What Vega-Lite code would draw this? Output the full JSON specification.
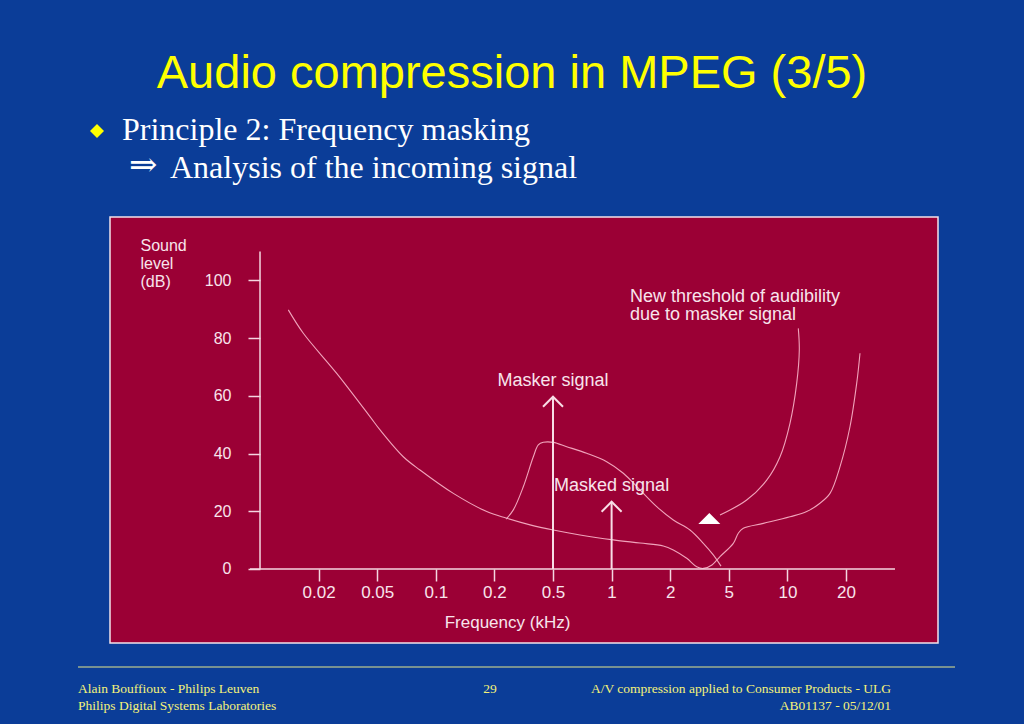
{
  "$schema": "https://vega.github.io/schema/vega-lite/v6.json",
  "width": 828,
  "height": 426,
  "autosize": {"type": "none"},
  "padding": {"left": 110, "top": 217, "right": 86, "bottom": 81},
  "background": "#0b3d98",
  "view": {"fill": "#9b0035", "stroke": "#f2e2ea", "strokeWidth": 1.5},
  "config": {
    "view": {"fill": "#9b0035", "stroke": "#f2e2ea", "strokeWidth": 1.5},
    "text": {"font": "Liberation Sans"}
  },
  "datasets": {
    "curves": [
      {"curve": "Threshold in quiet", "seq": 1, "freq_step": -0.517, "level": 89.8},
      {"curve": "Threshold in quiet", "seq": 2, "freq_step": -0.261, "level": 81.7},
      {"curve": "Threshold in quiet", "seq": 3, "freq_step": 0.309, "level": 67.8},
      {"curve": "Threshold in quiet", "seq": 4, "freq_step": 0.877, "level": 52.8},
      {"curve": "Threshold in quiet", "seq": 5, "freq_step": 1.048, "level": 48.2},
      {"curve": "Threshold in quiet", "seq": 6, "freq_step": 1.445, "level": 38.9},
      {"curve": "Threshold in quiet", "seq": 7, "freq_step": 1.73, "level": 34.3},
      {"curve": "Threshold in quiet", "seq": 8, "freq_step": 2.299, "level": 26.2},
      {"curve": "Threshold in quiet", "seq": 9, "freq_step": 2.869, "level": 19.9},
      {"curve": "Threshold in quiet", "seq": 10, "freq_step": 3.21, "level": 17.6},
      {"curve": "Threshold in quiet", "seq": 11, "freq_step": 3.608, "level": 15.3},
      {"curve": "Threshold in quiet", "seq": 12, "freq_step": 4.005, "level": 13.5},
      {"curve": "Threshold in quiet", "seq": 13, "freq_step": 4.461, "level": 11.8},
      {"curve": "Threshold in quiet", "seq": 14, "freq_step": 5.029, "level": 10.1},
      {"curve": "Threshold in quiet", "seq": 15, "freq_step": 5.485, "level": 9.0},
      {"curve": "Threshold in quiet", "seq": 16, "freq_step": 5.882, "level": 8.0},
      {"curve": "Threshold in quiet", "seq": 17, "freq_step": 6.053, "level": 6.6},
      {"curve": "Threshold in quiet", "seq": 18, "freq_step": 6.282, "level": 3.7},
      {"curve": "Threshold in quiet", "seq": 19, "freq_step": 6.452, "level": 0.8},
      {"curve": "Threshold in quiet", "seq": 20, "freq_step": 6.565, "level": 0.2},
      {"curve": "Threshold in quiet", "seq": 21, "freq_step": 6.713, "level": 1.4},
      {"curve": "Threshold in quiet", "seq": 22, "freq_step": 6.85, "level": 4.3},
      {"curve": "Threshold in quiet", "seq": 23, "freq_step": 7.077, "level": 8.9},
      {"curve": "Threshold in quiet", "seq": 24, "freq_step": 7.162, "level": 12.4},
      {"curve": "Threshold in quiet", "seq": 25, "freq_step": 7.247, "level": 14.1},
      {"curve": "Threshold in quiet", "seq": 26, "freq_step": 7.589, "level": 15.8},
      {"curve": "Threshold in quiet", "seq": 27, "freq_step": 8.044, "level": 18.1},
      {"curve": "Threshold in quiet", "seq": 28, "freq_step": 8.329, "level": 19.9},
      {"curve": "Threshold in quiet", "seq": 29, "freq_step": 8.556, "level": 22.8},
      {"curve": "Threshold in quiet", "seq": 30, "freq_step": 8.727, "level": 26.2},
      {"curve": "Threshold in quiet", "seq": 31, "freq_step": 8.898, "level": 35.5},
      {"curve": "Threshold in quiet", "seq": 32, "freq_step": 9.068, "level": 49.3},
      {"curve": "Threshold in quiet", "seq": 33, "freq_step": 9.183, "level": 64.4},
      {"curve": "Threshold in quiet", "seq": 34, "freq_step": 9.239, "level": 74.8},
      {"curve": "Masking threshold", "seq": 1, "freq_step": 3.198, "level": 17.3},
      {"curve": "Masking threshold", "seq": 2, "freq_step": 3.323, "level": 20.5},
      {"curve": "Masking threshold", "seq": 3, "freq_step": 3.493, "level": 28.5},
      {"curve": "Masking threshold", "seq": 4, "freq_step": 3.664, "level": 38.9},
      {"curve": "Masking threshold", "seq": 5, "freq_step": 3.749, "level": 43.0},
      {"curve": "Masking threshold", "seq": 6, "freq_step": 3.834, "level": 43.9},
      {"curve": "Masking threshold", "seq": 7, "freq_step": 4.005, "level": 43.9},
      {"curve": "Masking threshold", "seq": 8, "freq_step": 4.234, "level": 42.4},
      {"curve": "Masking threshold", "seq": 9, "freq_step": 4.575, "level": 40.1},
      {"curve": "Masking threshold", "seq": 10, "freq_step": 4.916, "level": 37.2},
      {"curve": "Masking threshold", "seq": 11, "freq_step": 5.2, "level": 33.2},
      {"curve": "Masking threshold", "seq": 12, "freq_step": 5.485, "level": 27.4},
      {"curve": "Masking threshold", "seq": 13, "freq_step": 5.77, "level": 21.6},
      {"curve": "Masking threshold", "seq": 14, "freq_step": 6.053, "level": 17.0},
      {"curve": "Masking threshold", "seq": 15, "freq_step": 6.338, "level": 13.5},
      {"curve": "Masking threshold", "seq": 16, "freq_step": 6.565, "level": 8.9},
      {"curve": "Masking threshold", "seq": 17, "freq_step": 6.735, "level": 4.9},
      {"curve": "Masking threshold", "seq": 18, "freq_step": 6.867, "level": 1.0},
      {"curve": "Leader", "seq": 1, "freq_step": 6.85, "level": 18.7},
      {"curve": "Leader", "seq": 2, "freq_step": 7.305, "level": 23.9},
      {"curve": "Leader", "seq": 3, "freq_step": 7.647, "level": 30.8},
      {"curve": "Leader", "seq": 4, "freq_step": 7.874, "level": 38.9},
      {"curve": "Leader", "seq": 5, "freq_step": 8.044, "level": 50.5},
      {"curve": "Leader", "seq": 6, "freq_step": 8.159, "level": 64.4},
      {"curve": "Leader", "seq": 7, "freq_step": 8.203, "level": 75.9},
      {"curve": "Leader", "seq": 8, "freq_step": 8.186, "level": 83.4}
    ],
    "signals": [
      {"signal": "Masker signal", "freq_step": 4, "level": 59.7},
      {"signal": "Masked signal", "freq_step": 5, "level": 23.3}
    ]
  },
  "layer": [
    {
      "data": {"name": "curves"},
      "mark": {"type": "line", "color": "#f0a3bb", "strokeWidth": 1.1, "interpolate": "catmull-rom"},
      "encoding": {
        "x": {
          "field": "freq_step", "type": "quantitative",
          "scale": {"domain": [-3.56, 10.57], "nice": false, "zero": false},
          "axis": {
            "orient": "bottom", "offset": -74,
            "values": [0, 1, 2, 3, 4, 5, 6, 7, 8, 9],
            "labelExpr": "['0.02','0.05','0.1','0.2','0.5','1','2','5','10','20'][datum.value]",
            "domain": false, "grid": false,
            "tickSize": 12, "tickColor": "#f4d6e0", "tickWidth": 1.5,
            "labelFont": "Liberation Sans", "labelFontSize": 17, "labelColor": "#f8e4ec", "labelPadding": 3,
            "title": "Frequency (kHz)",
            "titleFont": "Liberation Sans", "titleFontSize": 17, "titleFontWeight": "normal", "titleColor": "#f8e4ec",
            "titleX": 397, "titleY": 53, "titleBaseline": "middle", "titleAlign": "center"
          }
        },
        "y": {
          "field": "level", "type": "quantitative",
          "scale": {"domain": [-25.65, 122.0], "nice": false, "zero": false},
          "axis": {
            "orient": "left", "offset": -150,
            "values": [0, 20, 40, 60, 80, 100],
            "domain": false, "grid": false,
            "tickSize": 12, "tickColor": "#f4d6e0", "tickWidth": 1.5,
            "labelFont": "Liberation Sans", "labelFontSize": 16, "labelColor": "#f8e4ec", "labelPadding": 17,
            "title": ["Sound", "level", "(dB)"],
            "titleFont": "Liberation Sans", "titleFontSize": 16, "titleFontWeight": "normal", "titleColor": "#f8e4ec",
            "titleAngle": 0, "titleAlign": "left", "titleBaseline": "top", "titleX": -120, "titleY": 20, "titleLineHeight": 18
          }
        },
        "detail": {"field": "curve"},
        "order": {"field": "seq"}
      }
    },
    {
      "data": {"values": [{}]},
      "mark": {"type": "rule", "color": "#f4d6e0", "strokeWidth": 1.5},
      "encoding": {
        "x": {"datum": -1, "type": "quantitative"},
        "y": {"datum": 0, "type": "quantitative"},
        "y2": {"datum": 110}
      }
    },
    {
      "data": {"values": [{}]},
      "mark": {"type": "rule", "color": "#f4d6e0", "strokeWidth": 1.5},
      "encoding": {
        "x": {"datum": -1.171, "type": "quantitative"},
        "x2": {"datum": 9.836},
        "y": {"datum": 0, "type": "quantitative"}
      }
    },
    {
      "data": {"name": "signals"},
      "mark": {"type": "rule", "color": "#f8dde6", "strokeWidth": 2},
      "encoding": {
        "x": {"field": "freq_step", "type": "quantitative"},
        "y": {"field": "level", "type": "quantitative"},
        "y2": {"datum": 0}
      }
    },
    {
      "data": {"name": "signals"},
      "mark": {"type": "point", "shape": "M-1,1L0,0L1,1", "size": 400, "filled": false, "stroke": "#f8dde6", "strokeWidth": 2, "opacity": 1},
      "encoding": {
        "x": {"field": "freq_step", "type": "quantitative"},
        "y": {"field": "level", "type": "quantitative"}
      }
    },
    {
      "data": {"name": "signals"},
      "mark": {"type": "text", "color": "#f8e4ec", "fontSize": 18, "align": "center", "baseline": "middle", "dy": -16},
      "encoding": {
        "x": {"field": "freq_step", "type": "quantitative"},
        "y": {"field": "level", "type": "quantitative"},
        "text": {"field": "signal"}
      }
    },
    {
      "data": {"values": [{"label": "New threshold of audibility\ndue to masker signal"}]},
      "mark": {"type": "text", "color": "#f8e4ec", "fontSize": 18, "align": "left", "baseline": "top", "lineBreak": "\n", "lineHeight": 18},
      "encoding": {
        "x": {"datum": 5.314, "type": "quantitative"},
        "y": {"datum": 97.4, "type": "quantitative"},
        "text": {"field": "label"}
      }
    },
    {
      "data": {"values": [{}]},
      "mark": {"type": "point", "shape": "M-1,0.5L0,-0.5L1,0.5Z", "size": 484, "filled": true, "color": "#ffffff", "opacity": 1},
      "encoding": {
        "x": {"datum": 6.667, "type": "quantitative"},
        "y": {"datum": 17.5, "type": "quantitative"}
      }
    },
    {
      "data": {"values": [{"label": "Audio compression in MPEG (3/5)"}]},
      "mark": {"type": "text", "font": "Liberation Sans", "fontSize": 47, "color": "#ffff00", "align": "center", "baseline": "alphabetic", "x": 402, "y": -129},
      "encoding": {"text": {"field": "label"}}
    },
    {
      "data": {"values": [{}]},
      "mark": {"type": "point", "shape": "diamond", "size": 196, "filled": true, "color": "#ffff00", "opacity": 1},
      "encoding": {"x": {"value": -13}, "y": {"value": -86}}
    },
    {
      "data": {"values": [{"label": "Principle 2: Frequency masking"}]},
      "mark": {"type": "text", "font": "Liberation Serif", "fontSize": 32, "color": "#ffffff", "align": "left", "baseline": "alphabetic", "x": 12, "y": -77},
      "encoding": {"text": {"field": "label"}}
    },
    {
      "data": {"values": [{"label": "⇒"}]},
      "mark": {"type": "text", "font": "DejaVu Serif", "fontSize": 34, "color": "#ffffff", "align": "left", "baseline": "alphabetic", "x": 19, "y": -41},
      "encoding": {"text": {"field": "label"}}
    },
    {
      "data": {"values": [{"label": "Analysis of the incoming signal"}]},
      "mark": {"type": "text", "font": "Liberation Serif", "fontSize": 32, "color": "#ffffff", "align": "left", "baseline": "alphabetic", "x": 60, "y": -39},
      "encoding": {"text": {"field": "label"}}
    },
    {
      "data": {"values": [{}]},
      "mark": {"type": "rule", "color": "#e6e88a", "strokeWidth": 1.2},
      "encoding": {"x": {"value": -32}, "x2": {"value": 845}, "y": {"value": 450}, "y2": {"value": 450}}
    },
    {
      "data": {"values": [{"label": "Alain Bouffioux - Philips Leuven\nPhilips Digital Systems Laboratories"}]},
      "mark": {"type": "text", "font": "Liberation Serif", "fontSize": 13.5, "color": "#f4f27a", "align": "left", "baseline": "alphabetic", "lineBreak": "\n", "lineHeight": 17, "x": -32, "y": 476},
      "encoding": {"text": {"field": "label"}}
    },
    {
      "data": {"values": [{"label": "29"}]},
      "mark": {"type": "text", "font": "Liberation Serif", "fontSize": 13.5, "color": "#f4f27a", "align": "center", "baseline": "alphabetic", "x": 380, "y": 476},
      "encoding": {"text": {"field": "label"}}
    },
    {
      "data": {"values": [{"label": "A/V compression applied to Consumer Products - ULG\nAB01137 -  05/12/01"}]},
      "mark": {"type": "text", "font": "Liberation Serif", "fontSize": 13.5, "color": "#f4f27a", "align": "right", "baseline": "alphabetic", "lineBreak": "\n", "lineHeight": 17, "x": 781, "y": 476},
      "encoding": {"text": {"field": "label"}}
    }
  ]
}
